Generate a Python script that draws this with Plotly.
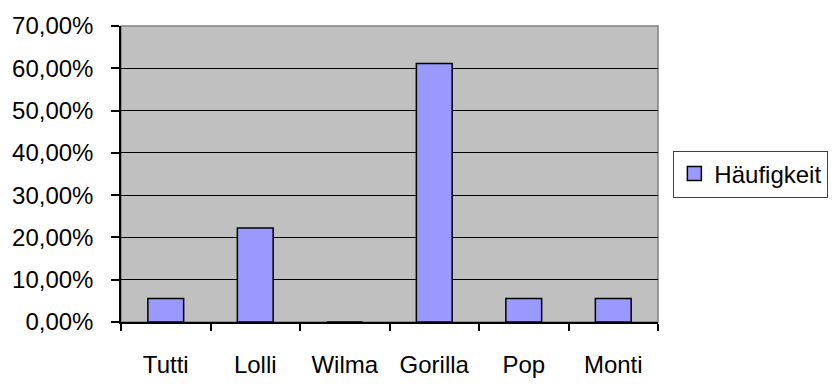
import plotly.graph_objects as go

categories = ["Tutti", "Lolli", "Wilma", "Gorilla", "Pop", "Monti"]
haeufigkeit = [1/18, 4/18, 0.0, 11/18, 1/18, 1/18]
series_name = "Häufigkeit"

FONT = "Liberation Sans, Arial, sans-serif"
BAR_COLOR = "#9999FF"

fig = go.Figure()
fig.add_trace(go.Bar(
    x=categories, y=haeufigkeit, name=series_name, width=0.4,
    marker=dict(color=BAR_COLOR, line=dict(color="black", width=1.5)),
    showlegend=False,
))
# legend entry
fig.add_trace(go.Scatter(
    x=[None], y=[None], mode="markers", name=series_name,
    marker=dict(symbol="square", size=14, color=BAR_COLOR,
                line=dict(color="black", width=1.5)),
))

fig.update_layout(
    width=840, height=390,
    margin=dict(l=113, r=167, t=20, b=52.5, pad=0),
    paper_bgcolor="white", plot_bgcolor="#C0C0C0",
    separators=",.",
    font=dict(family=FONT, size=24, color="black"),
    showlegend=True,
    legend=dict(x=1.0286, xanchor="left", y=0.5, yanchor="middle",
                bordercolor="#404040", borderwidth=1, bgcolor="white",
                font=dict(size=24), itemwidth=30,
                tracegroupgap=0),
    bargap=0.6,
    shapes=[dict(type="rect", xref="paper", yref="paper", x0=0, x1=1, y0=0, y1=1,
                 line=dict(color="#808080", width=1.5), layer="below")],
)
fig.update_xaxes(
    type="category", showline=True, linecolor="black", linewidth=1.5,
    ticks="outside", ticklen=7, tickcolor="black", tickwidth=1.5,
    tickson="boundaries", showgrid=False, ticklabelstandoff=20,
    fixedrange=True,
)
fig.update_yaxes(
    range=[0, 0.7], dtick=0.1, tick0=0, tickformat=".2%",
    showline=True, linecolor="black", linewidth=1.5,
    ticks="outside", ticklen=8, tickcolor="black", tickwidth=1.5,
    showgrid=True, gridcolor="black", gridwidth=1, zeroline=False,
    ticklabelstandoff=13, fixedrange=True,
)

fig.write_html("out.html")
